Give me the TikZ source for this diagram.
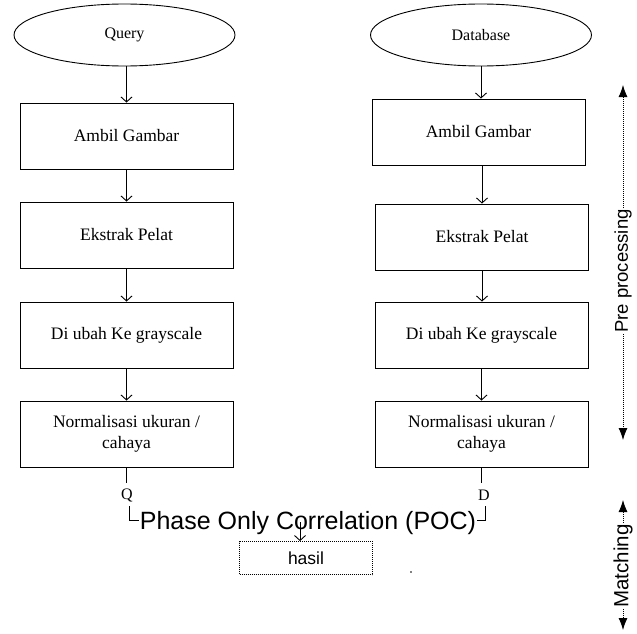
\documentclass[tikz,border=0pt]{standalone}
\usepackage{fontspec}
\setmainfont{Liberation Serif}
\newfontfamily\arialf{Liberation Sans}
\usetikzlibrary{shapes.geometric,arrows.meta,calc}
\begin{document}
\begin{tikzpicture}[x=1pt,y=-1pt,
  lw/.style={line width=0.9pt},
  procbox/.style={draw,lw,rectangle,minimum width=213pt,minimum height=66pt,inner sep=0pt,align=center,
     font=\fontsize{17.5}{21.5}\selectfont},
  oval/.style={draw,lw,ellipse,minimum width=221pt,minimum height=62pt,inner sep=0pt,
     font=\fontsize{16}{18}\selectfont},
  arr/.style={lw,-{Straight Barb[length=5pt,width=11pt]}},
  lbl/.style={inner sep=0pt,font=\fontsize{16}{18}\selectfont},
  side/.style={inner sep=1pt,rotate=90},
  sidearr/.style={line width=0.8pt,dash pattern=on 1pt off 1pt,-{Latex[length=12pt,width=9pt]}}
]
\useasboundingbox (0,0) rectangle (637,634);

% ellipses
\node[oval] (q) at (124.5,35) {Query};
\node[oval] (db) at (481,35) {Database};

% left column
\node[procbox] (l1) at (126.5,136) {Ambil Gambar};
\node[procbox] (l2) at (126.5,235) {Ekstrak Pelat};
\node[procbox] (l3) at (126.5,335) {Di ubah Ke grayscale};
\node[procbox] (l4) at (126.5,434) {Normalisasi ukuran /\\cahaya};

% right column
\node[procbox] (r1) at (478.5,132) {Ambil Gambar};
\node[procbox] (r2) at (482,237) {Ekstrak Pelat};
\node[procbox] (r3) at (481.5,335) {Di ubah Ke grayscale};
\node[procbox] (r4) at (481.5,434) {Normalisasi ukuran /\\cahaya};

% connectors left
\draw[arr] (l1.north |- q.south) -- (l1.north);
\draw[arr] (l1.south) -- (l2.north);
\draw[arr] (l2.south) -- (l3.north);
\draw[arr] (l3.south) -- (l4.north);

% connectors right
\draw[arr] (db.south) -- (db.south |- r1.north);
\draw[arr] (r2.north |- r1.south) -- (r2.north);
\draw[arr] (r2.south) -- (r2.south |- r3.north);
\draw[arr] (r3.south) -- (r4.north);

% bottom labels
\node[lbl] (Q) at (127,495) {Q};
\node[lbl] (D) at (484,495) {D};
\draw[lw] (l4.south) -- ($(l4.south)+(0,16)$);
\draw[lw] (r4.south) -- ($(r4.south)+(0,16)$);

\node[inner sep=0pt,anchor=base,font=\arialf\fontsize{25}{28}\selectfont] (poc) at (308,529) {Phase Only Correlation (POC)};
\coordinate (bl) at (129,506);
\coordinate (br) at (485,506);
\draw[lw] (bl) |- ([xshift=-1pt,yshift=2.5pt]poc.west);
\draw[lw] (br) |- ([xshift=1pt,yshift=2.5pt]poc.east);

% result
\node[draw,line width=0.8pt,dash pattern=on 1pt off 1pt,minimum width=133pt,minimum height=33pt,inner sep=0pt,
      font=\arialf\fontsize{17.5}{20}\selectfont] (hasil) at (306,558) {hasil};
\coordinate (pa) at (300,522);
\draw[arr] (pa) -- (pa |- hasil.north);

\fill (411,572) circle (0.9);

% side arrows
\node[side,font=\arialf\fontsize{18.5}{20}\selectfont] (pp) at (623,271) {Pre processing};
\draw[sidearr] (pp.east) -- (623,85);
\draw[sidearr] (pp.west) -- (623,440);
\node[side,font=\arialf\fontsize{20.5}{22}\selectfont] (mt) at (623,566) {Matching};
\draw[sidearr] (mt.east) -- (623,500);
\draw[sidearr] (mt.west) -- (623,630);
\end{tikzpicture}
\end{document}
